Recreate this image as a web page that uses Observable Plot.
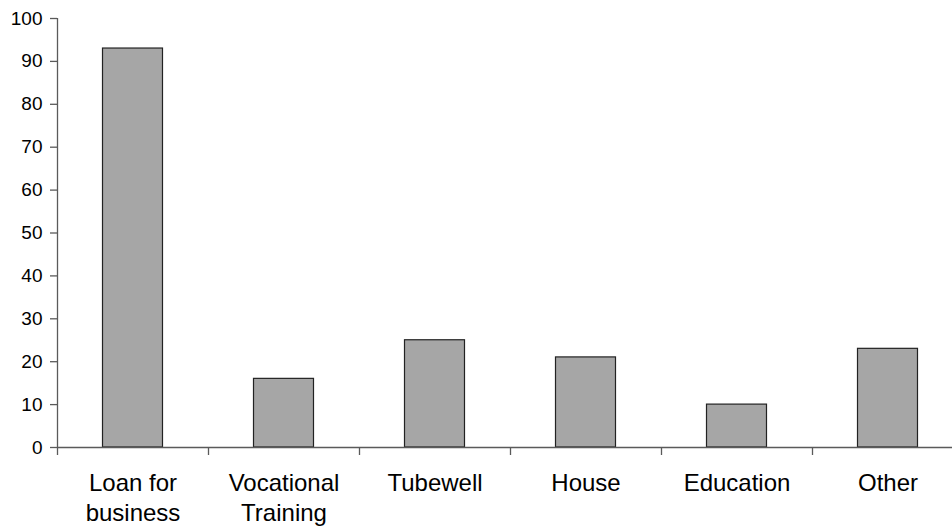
<!DOCTYPE html>
<html>
<head>
<meta charset="utf-8">
<script src="https://cdn.jsdelivr.net/npm/d3@7"></script>
<script src="https://cdn.jsdelivr.net/npm/@observablehq/plot@0.6"></script>
<style>
  html, body { margin: 0; padding: 0; background: #fff; }
  svg { display: block; }
</style>
</head>
<body>
<div id="chart"></div>
<script>
// Uses of remittance income
const categories = ["Loan for\nbusiness", "Vocational\nTraining", "Tubewell", "House", "Education", "Other"];
const values = [93, 16, 25, 21, 10, 23];
const yTicks = [0, 10, 20, 30, 40, 50, 60, 70, 80, 90, 100];

const data = categories.map((c, i) => ({category: c, value: values[i]}));

const xRange = [56.5, 962.5];
const bw = (xRange[1] - xRange[0]) / categories.length;
const axisColor = "#5a5a5a";

const chart = Plot.plot({
  width: 952,
  height: 527,
  marginTop: 18,
  marginBottom: 80,
  marginLeft: 57,
  marginRight: 0,
  style: {fontFamily: "'Liberation Sans', Arial, sans-serif", color: "#000", background: "#fff"},
  x: {domain: categories, range: xRange, padding: 0, label: null},
  y: {domain: [0, 100], label: null},
  marks: [
    Plot.barY(data, {
      x: "category", y: "value",
      fill: "#a6a6a6", stroke: "#222", strokeWidth: 1.2,
      insetLeft: 45.5, insetRight: 45.5
    }),
    // category axis line
    Plot.ruleY([0], {stroke: axisColor, strokeWidth: 1.3}),
    // value axis line, extended a little below zero
    Plot.ruleX([categories[0]], {dx: -bw / 2, y1: 100, y2: 0, insetBottom: -8, stroke: axisColor, strokeWidth: 1.3}),
    // tick marks between categories
    Plot.ruleX(categories.slice(1), {dx: -bw / 2, y1: 0, y2: 0, insetBottom: -8, stroke: axisColor, strokeWidth: 1.3}),
    Plot.axisY(yTicks, {
      tickSize: 7, tickPadding: 8, fontSize: 19, stroke: axisColor, strokeWidth: 1.3,
      fill: "#000", label: null
    }),
    Plot.axisX({
      tickSize: 0, tickPadding: 23, fontSize: 24, lineHeight: 1.22,
      fill: "#000", label: null
    })
  ]
});

document.getElementById("chart").append(chart);
</script>
</body>
</html>
